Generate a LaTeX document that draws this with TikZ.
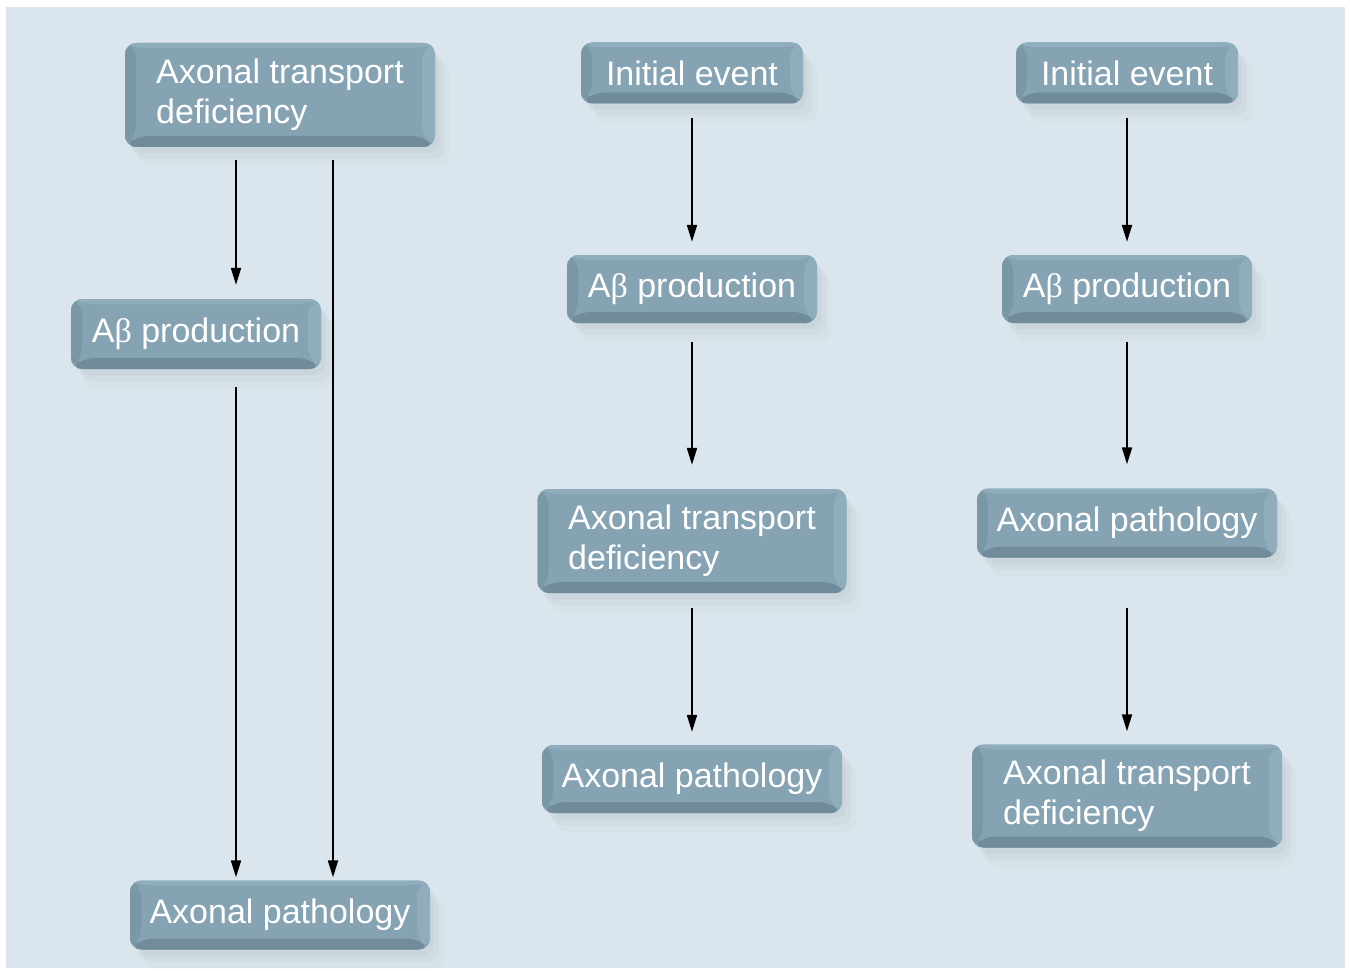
\documentclass[tikz,border=0pt]{standalone}
\usepackage{fontspec}
\setmainfont{Liberation Sans}
\newfontfamily\betafont{Liberation Serif}
\usetikzlibrary{arrows.meta, shadows}

\definecolor{panel}{RGB}{218,229,237}
\definecolor{boxface}{RGB}{133,163,179}
\definecolor{boxlow}{RGB}{112,139,154}
\definecolor{boxleft}{RGB}{122,151,166}
\definecolor{boxhigh}{RGB}{143,173,189}

\newcommand{\Ab}{A{\betafont β} production}

\tikzset{
  stage/.style={rounded corners=11pt, fill=boxface, text=white,
    font=\fontsize{34}{40}\selectfont, align=left, inner xsep=0pt, inner ysep=0pt,
    drop shadow={opacity=.06, shadow xshift=4pt, shadow yshift=-6pt},
    drop shadow={opacity=.05, shadow xshift=9pt, shadow yshift=-12pt},
    drop shadow={opacity=.04, shadow xshift=14pt, shadow yshift=-19pt},
    path picture={
      \fill[boxlow] (path picture bounding box.south west) -- (path picture bounding box.south east)
        -- ([xshift=-12pt,yshift=11pt]path picture bounding box.south east)
        -- ([xshift=12pt,yshift=11pt]path picture bounding box.south west) -- cycle;
      \fill[boxleft] (path picture bounding box.south west)
        -- ([xshift=11pt,yshift=11pt]path picture bounding box.south west)
        -- ([xshift=11pt,yshift=-5pt]path picture bounding box.north west)
        -- (path picture bounding box.north west) -- cycle;
      \fill[boxhigh] (path picture bounding box.south east) -- (path picture bounding box.north east)
        -- ([xshift=-13pt,yshift=-5pt]path picture bounding box.north east)
        -- ([xshift=-13pt,yshift=11pt]path picture bounding box.south east) -- cycle;
      \fill[boxhigh] (path picture bounding box.north west) -- (path picture bounding box.north east)
        -- ([xshift=-13pt,yshift=-5pt]path picture bounding box.north east)
        -- ([xshift=11pt,yshift=-5pt]path picture bounding box.north west) -- cycle;
    }},
  arr/.style={line width=2pt, -{Triangle[length=17pt,width=10pt]}}
}

\begin{document}
\begin{tikzpicture}[x=1pt,y=-1pt]
\useasboundingbox (0,0) rectangle (1350,971);
\fill[panel] (6,7) rectangle (1345,968);

% left column
\node[stage, minimum width=310pt, minimum height=104pt] (atd1) at (280,95) {Axonal transport\\deficiency};
\node[stage, minimum width=250pt, minimum height=70pt] (ab1) at (196,334) {\Ab};
\node[stage, minimum width=300pt, minimum height=69pt] (ap1) at (280,915) {Axonal pathology};

% middle column
\node[stage, minimum width=222pt, minimum height=61pt] (ie2) at (692,73) {Initial event};
\node[stage, minimum width=250pt, minimum height=68pt] (ab2) at (692,289) {\Ab};
\node[stage, minimum width=309pt, minimum height=104pt] (atd2) at (692,541) {Axonal transport\\deficiency};
\node[stage, minimum width=300pt, minimum height=68pt] (ap2) at (692,779) {Axonal pathology};

% right column
\node[stage, minimum width=222pt, minimum height=61pt] (ie3) at (1127,73) {Initial event};
\node[stage, minimum width=250pt, minimum height=68pt] (ab3) at (1127,289) {\Ab};
\node[stage, minimum width=300pt, minimum height=69pt] (ap3) at (1127,523) {Axonal pathology};
\node[stage, minimum width=310pt, minimum height=103pt] (atd3) at (1127,796) {Axonal transport\\deficiency};

% arrows
\draw[arr, shorten <=13pt, shorten >=14pt] ([xshift=-44pt]atd1.south) -- ([xshift=-44pt]atd1.south |- ab1.north);
\draw[arr, shorten <=13pt, shorten >=3pt] ([xshift=53pt]atd1.south) -- ([xshift=53pt]atd1.south |- ap1.north);
\draw[arr, shorten <=18pt, shorten >=3pt] ([xshift=40pt]ab1.south) -- ([xshift=40pt]ab1.south |- ap1.north);

\draw[arr, shorten <=14pt, shorten >=13pt] (ie2) -- (ab2);
\draw[arr, shorten <=19pt, shorten >=24pt] (ab2) -- (atd2);
\draw[arr, shorten <=15pt, shorten >=13pt] (atd2) -- (ap2);

\draw[arr, shorten <=14pt, shorten >=13pt] (ie3) -- (ab3);
\draw[arr, shorten <=19pt, shorten >=24pt] (ab3) -- (ap3);
\draw[arr, shorten <=50pt, shorten >=13pt] (ap3) -- (atd3);
\end{tikzpicture}
\end{document}
